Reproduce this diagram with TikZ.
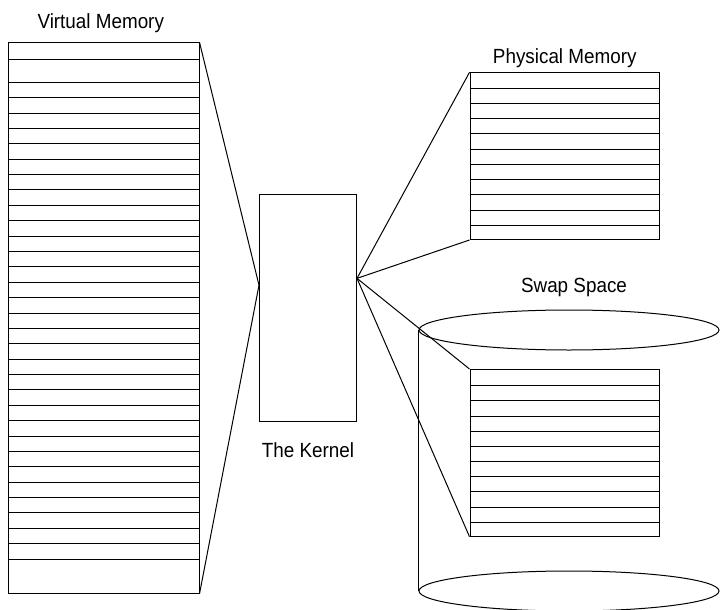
\documentclass[tikz,border=0pt]{standalone}
\usepackage{fontspec}
\setmainfont{Liberation Sans}[FakeStretch=0.92]
\usetikzlibrary{positioning,shapes.geometric,calc}

\begin{document}
\begin{tikzpicture}[
  x=1pt, y=-1pt,
  line width=1pt,
  font=\fontsize{20.5}{23}\selectfont,
  node distance=8pt,
  membox/.style={draw, inner sep=0pt, anchor=north west},
  disk/.style={draw, ellipse, inner sep=0pt, minimum width=300pt, minimum height=40pt},
  caption/.style={inner sep=0pt, text height=15pt, text depth=4.5pt},
  link/.style={line width=1pt}
]
\useasboundingbox (0,0) rectangle (720,610);

% memory blocks
\node[membox, minimum width=190.5pt, minimum height=550.5pt] (vm) at (8,42.3) {};
\node[membox, minimum width=189.5pt, minimum height=166.7pt] (phys) at (469.5,72.3) {};
\node[membox, minimum width=189.5pt, minimum height=166.7pt] (swap) at (469.5,369) {};
\node[membox, minimum width=97pt, minimum height=227pt] (kernel) at (259,194) {};

% rows
\draw ($(vm.north west)+(0,17.7)$) -- ($(vm.north east)+(0,17.7)$);
\foreach \y in {0,...,31}
  \draw ($(vm.north west)+(0,40+15.38*\y)$) -- ($(vm.north east)+(0,40+15.38*\y)$);
\foreach \y in {0,...,9} {
  \draw ($(phys.north west)+(0,16+15.22*\y)$) -- ($(phys.north east)+(0,16+15.22*\y)$);
  \draw ($(swap.north west)+(0,16.7+15.18*\y)$) -- ($(swap.north east)+(0,16.7+15.18*\y)$);
}

% swap disk
\node[disk] (disktop) at (569,330) {};
\node[disk] (diskbot) at (569,591) {};
\draw (disktop.west) -- (diskbot.west);

% labels
\node[caption, above=8.5pt of vm, xshift=-3pt] (vmlabel) {Virtual Memory};
\node[caption, above=3.5pt of phys] (physlabel) {Physical Memory};
\node[caption, above=12pt of disktop, xshift=5pt] (swaplabel) {Swap Space};
\node[caption, below=20pt of kernel] (kernlabel) {The Kernel};

% kernel ends
\coordinate (kin) at ($(kernel.north west)!0.40!(kernel.south west)$);
\coordinate (kout) at ($(kernel.north east)!0.37!(kernel.south east)$);

\draw[link] (vm.north east) -- (kin);
\draw[link] (vm.south east) -- (kin);
\draw[link] (kout) -- (phys.north west);
\draw[link] (kout) -- (phys.south west);
\draw[link] (kout) -- (swap.north west);
\draw[link] (kout) -- (swap.south west);
\end{tikzpicture}
\end{document}
